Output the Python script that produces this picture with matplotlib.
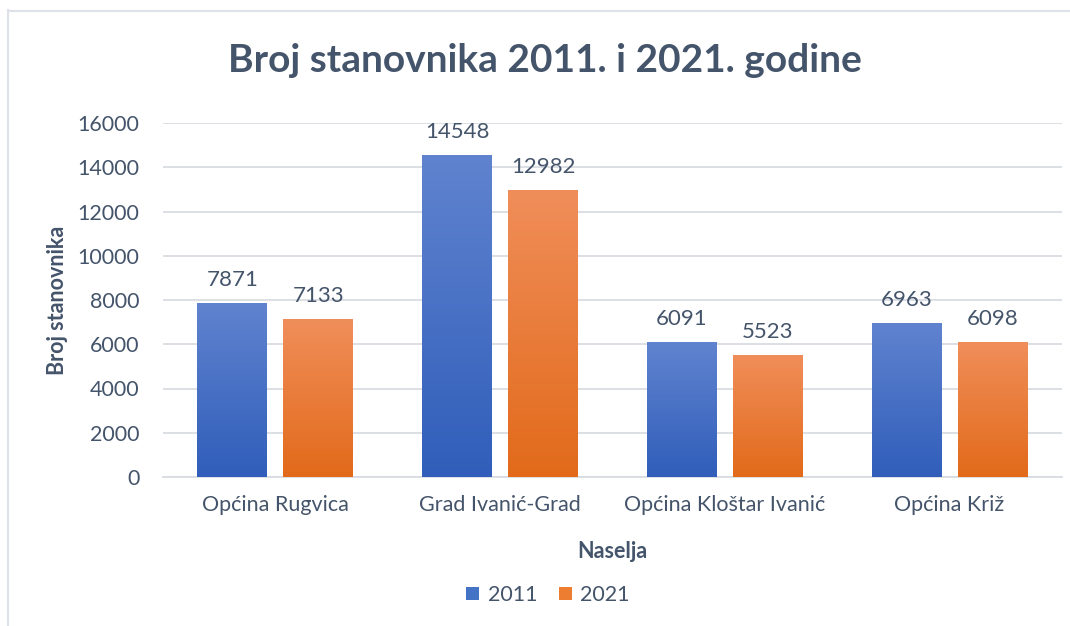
import matplotlib
matplotlib.use("Agg")
import matplotlib.pyplot as plt
import numpy as np
from matplotlib.colors import LinearSegmentedColormap
from matplotlib.patches import Patch

plt.rcParams['font.family'] = ['Lato', 'DejaVu Sans']

categories = ["Općina Rugvica", "Grad Ivanić-Grad", "Općina Kloštar Ivanić", "Općina Križ"]
series_names = ["2011", "2021"]
values_2011 = [7871, 14548, 6091, 6963]
values_2021 = [7133, 12982, 5523, 6098]
yticks = [0, 2000, 4000, 6000, 8000, 10000, 12000, 14000, 16000]

TXT = "#44546A"
W, H = 1070, 626
fig = plt.figure(figsize=(W / 100, H / 100), dpi=100)
ax = fig.add_axes([163 / W, 1 - 477 / H, (1062 - 163) / W, (477 - 123) / H])

x = np.arange(len(categories))
bw = 0.311
off = 0.191
grads = [
    [(48/255, 94/255, 186/255), (96/255, 131/255, 207/255)],
    [(226/255, 106/255, 26/255), (240/255, 142/255, 90/255)],
]
solid = ["#4472C4", "#ED7D31"]
for vals, sgn, g, sc in [(values_2011, -1, grads[0], solid[0]), (values_2021, 1, grads[1], solid[1])]:
    bars = ax.bar(x + sgn * off, vals, width=bw, color=sc, zorder=2)
    cmap = LinearSegmentedColormap.from_list("g", g)
    for b, v in zip(bars, vals):
        x0, w, h = b.get_x(), b.get_width(), b.get_height()
        grad = np.linspace(0, 1, 256).reshape(-1, 1)
        im = ax.imshow(grad, extent=(x0, x0 + w, 0, h), origin='lower', aspect='auto',
                       cmap=cmap, zorder=3)
        im.set_clip_path(b)
        ax.annotate(f"{v}", (x0 + w / 2, h), xytext=(0, 23), textcoords='offset pixels',
                    ha='center', va='center', fontsize=16, color=TXT)

ax.set_xlim(-0.5, len(categories) - 0.5)
ax.set_ylim(0, 16000)
ax.set_yticks(yticks)
ax.set_yticklabels([str(t) for t in yticks])
ax.set_xticks(x)
ax.set_xticklabels(categories)
ax.tick_params(axis='both', length=0, labelsize=15.5, colors=TXT)
ax.tick_params(axis='y', pad=17)
ax.tick_params(axis='x', pad=13)
ax.grid(axis='y', color='#D9DDE3', linewidth=1.3, zorder=0)
ax.set_axisbelow(True)
for s in ['top', 'right', 'left']:
    ax.spines[s].set_visible(False)
ax.spines['bottom'].set_color('#D9DDE3')
ax.spines['bottom'].set_linewidth(1.3)

ax.set_ylabel("Broj stanovnika", fontsize=15.5, fontweight='bold', color=TXT, labelpad=14)
ax.yaxis.set_label_coords((58 - 163) / (1062 - 163), 0.5)
ax.set_xlabel("Naselja", fontsize=15.5, fontweight='bold', color=TXT)
ax.xaxis.set_label_coords(0.5, (477 - 551) / (477 - 123))
ax.xaxis.label.set_va('center')
ax.yaxis.label.set_va('center')

fig.text(545 / W, 1 - 60 / H, "Broj stanovnika 2011. i 2021. godine", ha='center', va='center',
         fontsize=28, fontweight='bold', color=TXT)

handles = [Patch(facecolor=solid[0], label=series_names[0]), Patch(facecolor=solid[1], label=series_names[1])]
fig.legend(handles=handles, loc='center', bbox_to_anchor=(548 / W, 1 - 595 / H), ncol=2, frameon=False,
           fontsize=15.5, labelcolor=TXT, handlelength=0.6, handleheight=0.6, handletextpad=0.4, columnspacing=1.0)

# outer frame
fig.add_artist(plt.Line2D([8 / W, 8 / W], [0, 1 - 10 / H], transform=fig.transFigure, color='#DDE1E8', linewidth=1.5))
fig.add_artist(plt.Line2D([8 / W, 1], [1 - 10.5 / H, 1 - 10.5 / H], transform=fig.transFigure, color='#DDE1E8', linewidth=1.5))

fig.savefig("out.png", dpi=100)
